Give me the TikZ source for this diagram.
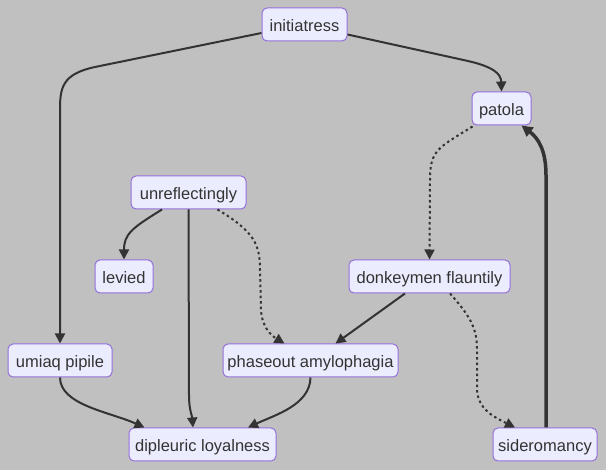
\documentclass[tikz,border=0pt]{standalone}
\usepackage{fontspec}
\setmainfont{Liberation Sans}
\usetikzlibrary{arrows.meta,calc}
\definecolor{bg}{HTML}{C0C0C0}
\definecolor{nfill}{HTML}{ECECFF}
\definecolor{nborder}{HTML}{9370DB}
\definecolor{ink}{HTML}{333333}
\tikzset{
  box/.style={draw=nborder, fill=nfill, line width=1pt, rounded corners=5pt,
    minimum height=33pt, inner sep=0pt, text=ink, text height=14.5pt, text depth=0pt,
    font=\fontsize{16.5}{19}\selectfont},
  edge/.style={draw=ink, line width=2pt, -{Triangle[length=10pt,width=10pt]}},
  dotedge/.style={edge, dash pattern=on 2.5pt off 3pt},
  thickedge/.style={edge, line width=3.5pt, -{Triangle[length=11pt,width=11pt]}}
}
\begin{document}
\begin{tikzpicture}[x=1pt,y=-1pt]
\fill[bg] (0,0) rectangle (606,470);
\useasboundingbox (0,0) rectangle (606,470);
\node[box, minimum width=85pt] (init) at (304.5,24.5) {initiatress};
\node[box, minimum width=59pt] (pat) at (501.5,108.5) {patola};
\node[box, minimum width=115pt] (unr) at (188.5,192.5) {unreflectingly};
\node[box, minimum width=58pt] (lev) at (124,276.5) {levied};
\node[box, minimum width=161pt] (donk) at (429.5,276.5) {donkeymen flauntily};
\node[box, minimum width=104pt] (umi) at (60,360.5) {umiaq pipile};
\node[box, minimum width=175pt] (pha) at (310.5,360.5) {phaseout amylophagia};
\node[box, minimum width=147pt] (dip) at (202.5,444.5) {dipleuric loyalness};
\node[box, minimum width=104pt] (sid) at (545,444.5) {sideromancy};

% initiatress -> umiaq pipile
\draw[edge] ($(init.west)+(0,8.5)$) -- (95,67) .. controls (62,74) and (60,88) .. (60,110) -- (umi.north);
% initiatress -> patola
\draw[edge] ($(init.east)+(0,10)$) -- (468,61) .. controls (494,67) and (501,74) .. (pat.north);
% patola -> donkeymen (dotted)
\draw[dotedge] ($(pat.south west)+(1,1)$) .. controls (438,148) and (430,150) .. (430,180) -- (donk.north);
% sideromancy -> patola (thick)
\draw[thickedge] ($(sid.north)+(1,0)$) -- (546,175) .. controls (546,150) and (538,138) .. ($(pat.south)+(20,0)$);
% unreflectingly -> levied
\draw[edge] ($(unr.south)+(-26.5,0)$) .. controls (132,228) and (124,234) .. (lev.north);
% unreflectingly -> dipleuric
\draw[edge] (unr.south) -- (189,395) .. controls (189,410) and (192,415) .. ($(dip.north)+(-9.5,0)$);
% unreflectingly -> phaseout (dotted)
\draw[dotedge] ($(unr.south)+(29,0)$) .. controls (255,232) and (260,245) .. (260,270) -- (261,310) .. controls (262,328) and (272,336) .. ($(pha.north)+(-26,0)$);
% donkeymen -> phaseout
\draw[edge] ($(donk.south)+(-24.5,0)$) -- ($(pha.north)+(25,0)$);
% donkeymen -> sideromancy (dotted)
\draw[dotedge] ($(donk.south)+(20.5,0)$) .. controls (472,318) and (477,330) .. (477,350) -- (477,390) .. controls (478,410) and (496,418) .. ($(sid.north)+(-30,0)$);
% umiaq -> dipleuric
\draw[edge] (umi.south) .. controls (60,405) and (110,412) .. ($(dip.north)+(-58,0)$);
% phaseout -> dipleuric
\draw[edge] (pha.south) .. controls (310,405) and (275,415) .. ($(dip.north)+(45.5,0)$);
\end{tikzpicture}
\end{document}
